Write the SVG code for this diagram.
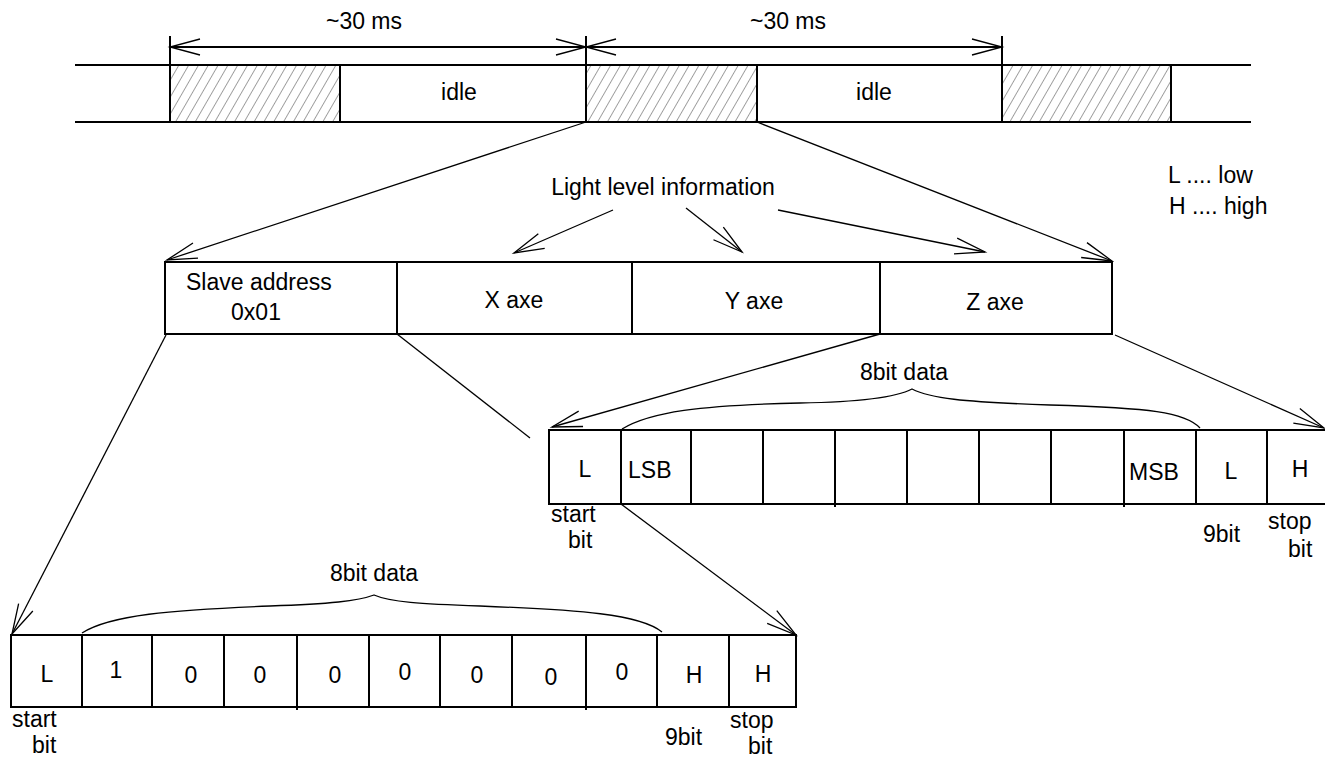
<svg xmlns="http://www.w3.org/2000/svg" width="1325" height="759" viewBox="0 0 1325 759">
<style>
text{font-family:"Liberation Sans",Arial,Helvetica,sans-serif;font-size:23px;fill:#000}
.c{text-anchor:middle}
.box{fill:#fff;stroke:#000;stroke-width:2}
.ln{stroke:#000;stroke-width:2;fill:none}
.cn{stroke:#000;stroke-width:1.3;fill:none}
.ar{marker-end:url(#ah)}
.hatch{fill:url(#hp);stroke:#000;stroke-width:2}
</style>
<defs>
<pattern id="hp" patternUnits="userSpaceOnUse" width="8.5" height="9" patternTransform="rotate(30)">
<line x1="0" y1="0" x2="0" y2="9" stroke="#444" stroke-width="1"/>
</pattern>
<marker id="ah" markerUnits="userSpaceOnUse" markerWidth="40" markerHeight="24" viewBox="-34 -12 36 24" refX="0" refY="0" orient="auto-start-reverse">
<path d="M-30,-8 L0,0 L-30,8" fill="none" stroke="#000" stroke-width="1.3"/>
</marker>
</defs>
<rect width="1325" height="759" fill="#fff"/>

<g id="timeline">
<rect class="hatch" x="170" y="65" width="170" height="57"/>
<rect class="hatch" x="586" y="65" width="171" height="57"/>
<rect class="hatch" x="1002" y="65" width="169" height="57"/>
<line class="ln" x1="75" y1="65" x2="1251" y2="65"/>
<line class="ln" x1="75" y1="122" x2="1251" y2="122"/>
<line class="ln" x1="170" y1="36" x2="170" y2="65"/>
<line class="ln" x1="586" y1="36" x2="586" y2="65"/>
<line class="ln" x1="1002" y1="36" x2="1002" y2="65"/>
<text class="c" x="459" y="100">idle</text>
<text class="c" x="874" y="100">idle</text>
</g>

<g id="dimensions">
<line class="ln" x1="170" y1="47" x2="586" y2="47" marker-start="url(#ah)" marker-end="url(#ah)"/>
<line class="ln" x1="586" y1="47" x2="1002" y2="47" marker-start="url(#ah)" marker-end="url(#ah)"/>
<text class="c" x="364" y="29">~30 ms</text>
<text class="c" x="788" y="29">~30 ms</text>
</g>

<g id="frame">
<rect class="box" x="165" y="262" width="947" height="72"/>
<line class="ln" x1="397" y1="262" x2="397" y2="334"/>
<line class="ln" x1="632" y1="262" x2="632" y2="334"/>
<line class="ln" x1="880" y1="262" x2="880" y2="334"/>
<text x="186" y="290">Slave address</text>
<text class="c" x="256" y="320">0x01</text>
<text class="c" x="514" y="308">X axe</text>
<text class="c" x="754" y="309">Y axe</text>
<text class="c" x="995" y="310">Z axe</text>
</g>

<g id="light-label">
<text class="c" x="663" y="195">Light level information</text>
</g>

<g id="legend">
<text x="1168" y="183">L .... low</text>
<text x="1169" y="214">H .... high</text>
</g>

<g id="byte-right">
<rect class="box" x="549" y="430" width="800" height="74"/>
<path class="ln" d="M621,430V504M691,430V504M763,430V504M835,430V507M907,430V504M979,430V504M1051,430V504M1124,430V507M1196,430V504M1267,430V504"/>
<text class="c" x="585" y="477">L</text>
<text x="628" y="478">LSB</text>
<text class="c" x="1154" y="480">MSB</text>
<text class="c" x="1231" y="479">L</text>
<text class="c" x="1300" y="477">H</text>
<text x="551" y="522">start</text>
<text x="568" y="548">bit</text>
<text x="1203" y="542">9bit</text>
<text x="1268" y="529">stop</text>
<text x="1288" y="557">bit</text>
<text class="c" x="904" y="380">8bit data</text>
</g>

<g id="byte-left">
<rect class="box" x="11" y="635" width="785" height="72"/>
<path class="ln" d="M82,635V707M152,635V707M224,635V707M297,635V710M369,635V707M440,635V707M512,635V707M586,635V710M657,635V707M729,635V707"/>
<text class="c" x="47" y="682">L</text>
<text class="c" x="116" y="678">1</text>
<text class="c" x="191" y="683">0</text>
<text class="c" x="260" y="683">0</text>
<text class="c" x="335" y="683">0</text>
<text class="c" x="405" y="680">0</text>
<text class="c" x="477" y="683">0</text>
<text class="c" x="551" y="685">0</text>
<text class="c" x="622" y="680">0</text>
<text class="c" x="694" y="683">H</text>
<text class="c" x="763" y="682">H</text>
<text x="12" y="727">start</text>
<text x="32" y="753">bit</text>
<text x="665" y="745">9bit</text>
<text x="730" y="728">stop</text>
<text x="748" y="754">bit</text>
<text class="c" x="374" y="581">8bit data</text>
</g>

<g id="connectors">
<line class="cn ar" x1="586" y1="122" x2="167" y2="260"/>
<line class="cn ar" x1="757" y1="122" x2="1112" y2="261"/>
<line class="cn ar" x1="613" y1="210" x2="514" y2="253"/>
<line class="cn ar" x1="686" y1="208" x2="742" y2="252"/>
<line class="cn ar" x1="778" y1="210" x2="985" y2="252"/>
<line class="cn" x1="397" y1="334" x2="530" y2="438"/>
<line class="cn ar" x1="880" y1="334" x2="552" y2="427"/>
<line class="cn ar" x1="1115" y1="335" x2="1324" y2="428"/>
<line class="cn ar" x1="166" y1="335" x2="12" y2="634"/>
<line class="cn ar" x1="621" y1="504" x2="796" y2="635"/>
<path class="cn" d="M622,429 C650,412 700,405 800,403 C860,402 895,398 912,389 C930,398 960,402 1050,405 C1150,408 1185,412 1200,428"/>
<path class="cn" d="M82,633 C110,615 170,610 270,606 C330,604 358,601 374,595 C390,602 420,604 480,606 C580,610 640,614 662,632"/>
</g>
</svg>
